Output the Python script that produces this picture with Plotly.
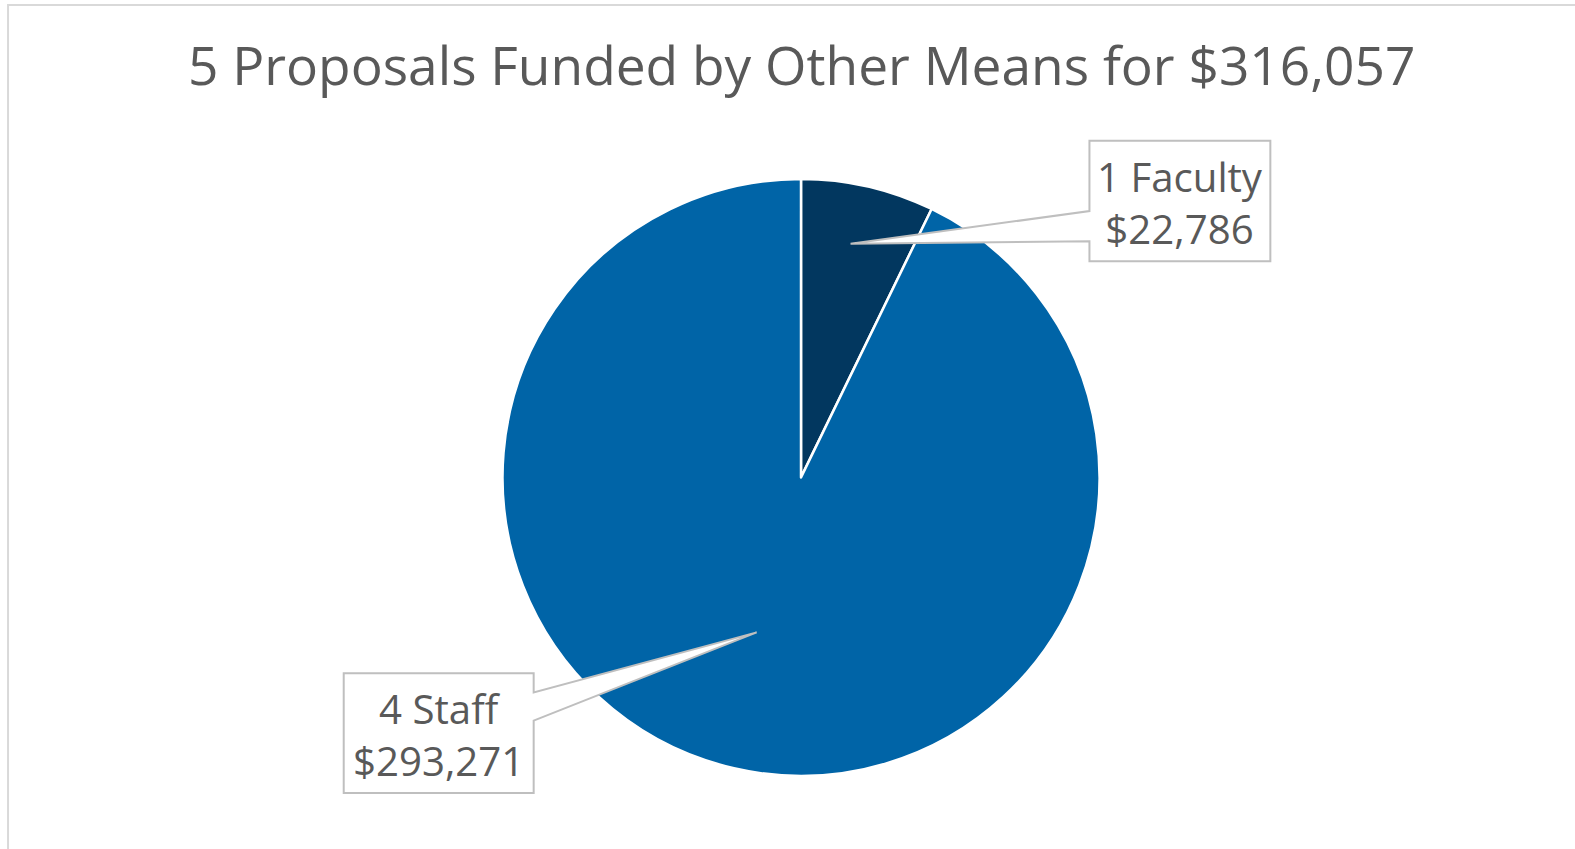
import math
import plotly.graph_objects as go

# ---- data ----
title_text = "5 Proposals Funded by Other Means for $316,057"
categories = ["1 Faculty", "4 Staff"]
amounts = [22786, 293271]
amount_labels = ["$22,786", "$293,271"]
colors = ["#02375F", "#0064A7"]

W, H = 1575, 849
K = 1 / 0.995  # compensation for slight downscale in capture
cx, cy, R = 797, 475, 297  # pie centre/radius in target pixels (layout)

fig = go.Figure()

# invisible helper trace to create a pixel coordinate system
fig.add_trace(go.Scatter(x=[0], y=[0], mode="markers", marker=dict(opacity=0),
                         hoverinfo="skip", showlegend=False))

fig.add_trace(go.Pie(
    labels=categories, values=amounts, sort=False, direction="clockwise",
    rotation=0, textinfo="none", hoverinfo="label+value",
    marker=dict(colors=colors, line=dict(color="white", width=2.5)),
    domain=dict(x=[(cx - R) * K / W, (cx + R) * K / W],
                y=[1 - (cy + R) * K / H, 1 - (cy - R) * K / H]),
    showlegend=False,
))

total = sum(amounts)
boxes = [
    dict(x0=1084, y0=140, x1=1264, y1=260, side="left", ny0=210, ny1=240, rf=0.80, dang=-1.0),
    dict(x0=342, y0=670, x1=531, y1=789, side="right", ny0=689, ny1=717, rf=0.54, dang=3.0),
]

shapes = [dict(type="rect", xref="x", yref="y", x0=8, y0=5, x1=1590, y1=870,
               line=dict(color="#D9D9D9", width=2), fillcolor="rgba(0,0,0,0)", layer="below")]
annotations = []

cum = 0
for i, v in enumerate(amounts):
    mid = (cum + v / 2) / total * 360
    cum += v
    b = boxes[i]
    ang = math.radians(mid + b["dang"])
    tx = cx + b["rf"] * R * math.sin(ang)
    ty = cy - b["rf"] * R * math.cos(ang)
    x0, y0, x1, y1 = b["x0"], b["y0"], b["x1"], b["y1"]
    if b["side"] == "left":
        path = (f"M {x0},{y0} L {x1},{y0} L {x1},{y1} L {x0},{y1} "
                f"L {x0},{b['ny1']} L {tx:.1f},{ty:.1f} L {x0},{b['ny0']} Z")
    else:
        path = (f"M {x0},{y0} L {x1},{y0} L {x1},{b['ny0']} L {tx:.1f},{ty:.1f} "
                f"L {x1},{b['ny1']} L {x1},{y1} L {x0},{y1} Z")
    shapes.append(dict(type="path", xref="x", yref="y", path=path,
                       fillcolor="white", line=dict(color="#BFBFBF", width=2), layer="above"))
    annotations.append(dict(
        x=(x0 + x1) / 2, y=(y0 + y1) / 2 + 1, xref="x", yref="y",
        text=f"{categories[i]}<br>{amount_labels[i]}", showarrow=False,
        font=dict(family="Open Sans", size=40 * K, color="#595959"),
        xanchor="center", yanchor="middle", align="center",
    ))

annotations.append(dict(
    x=797, y=64, xref="x", yref="y", text=title_text, showarrow=False,
    font=dict(family="Open Sans", size=53 * K, color="#595959"),
    xanchor="center", yanchor="middle",
))

fig.update_layout(
    width=W, height=H, margin=dict(l=0, r=0, t=0, b=0),
    paper_bgcolor="white", plot_bgcolor="white",
    xaxis=dict(range=[0, W / K], visible=False, domain=[0, 1], fixedrange=True),
    yaxis=dict(range=[H / K, 0], visible=False, domain=[0, 1], fixedrange=True),
    shapes=shapes, annotations=annotations, showlegend=False,
)

fig.write_html(
    "out.html",
    config={"displayModeBar": False},
    post_script=(
        "document.body.style.margin='0';"
        "document.body.style.overflow='hidden';"
        "document.documentElement.style.overflow='hidden';"
        "var g=document.getElementsByClassName('plotly-graph-div')[0];"
        "g.style.position='absolute';g.style.top='0px';g.style.left='0px';"
    ),
)
